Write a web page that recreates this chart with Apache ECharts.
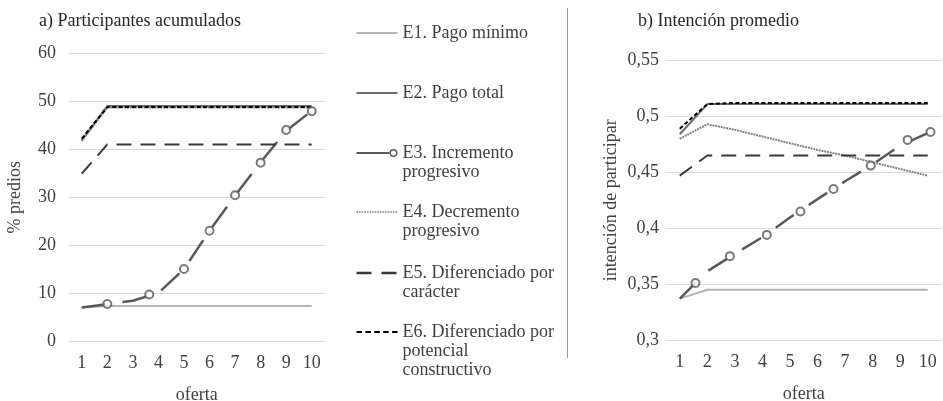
<!DOCTYPE html>
<html>
<head>
<meta charset="utf-8">
<script src="https://cdn.jsdelivr.net/npm/echarts@6/dist/echarts.min.js"></script>
<style>
html,body{margin:0;padding:0;background:#fff;}
#chart{width:943px;height:401px;}
</style>
</head>
<body>
<div id="chart"></div>
<script>
// ---- data ----
const categories = ['1','2','3','4','5','6','7','8','9','10'];
const seriesNames = ['E1. Pago mínimo','E2. Pago total','E3. Incremento progresivo','E4. Decremento progresivo','E5. Diferenciado por carácter','E6. Diferenciado por potencial constructivo'];
const legendLabels = ['E1. Pago mínimo','E2. Pago total','E3. Incremento\nprogresivo','E4. Decremento\nprogresivo','E5. Diferenciado por\ncarácter','E6. Diferenciado por\npotencial\nconstructivo'];

// a) Participantes acumulados (% predios)
const aE1 = [7.0, 7.3, 7.3, 7.3, 7.3, 7.3, 7.3, 7.3, 7.3, 7.3];
const aE2 = [41.9, 49.0, 49.0, 49.0, 49.0, 49.0, 49.0, 49.0, 49.0, 49.0];
const aE3 = [7.0, 7.7, 8.4, 10.0, 15.0, 23.0, 30.3, 37.3, 43.8, 48.0];
const aE4 = [41.7, 48.7, 48.7, 48.7, 48.7, 48.7, 48.7, 48.7, 48.7, 48.7];
const aE5 = [34.9, 41.0, 41.0, 41.0, 41.0, 41.0, 41.0, 41.0, 41.0, 41.0];
const aE6 = [42.2, 48.8, 48.8, 48.8, 48.8, 48.8, 48.8, 48.8, 48.8, 48.8];
const aE3markers = [[2, 7.7], [3.64, 9.7], [5, 15.0], [6, 23.0], [7, 30.4], [8, 37.2], [9, 44.0], [10, 47.9]];

// b) Intención promedio
const bE1 = [0.337, 0.345, 0.345, 0.345, 0.345, 0.345, 0.345, 0.345, 0.345, 0.345];
const bE2 = [0.484, 0.511, 0.511, 0.511, 0.511, 0.511, 0.511, 0.511, 0.511, 0.511];
const bE3 = [0.337, 0.3615, 0.377, 0.392, 0.4095, 0.426, 0.442, 0.457, 0.474, 0.485];
const bE4 = [0.480, 0.493, 0.488, 0.482, 0.476, 0.470, 0.465, 0.459, 0.453, 0.447];
const bE5 = [0.447, 0.465, 0.465, 0.465, 0.465, 0.465, 0.465, 0.465, 0.465, 0.465];
const bE6 = [0.489, 0.511, 0.512, 0.512, 0.512, 0.512, 0.512, 0.512, 0.512, 0.512];
const bE3markers = [[1.57, 0.351], [2.82, 0.375], [4.16, 0.394], [5.38, 0.415], [6.58, 0.435], [7.93, 0.456], [9.27, 0.479], [10.1, 0.486]];

// ---- styling ----
const FONT = '"Liberation Serif", "Times New Roman", serif';
const TXT = '#404040';
const styles = [
  {color: '#b4b4b4', width: 2, type: 'solid'},
  {color: '#6e6e6e', width: 2, type: 'solid'},
  {color: '#595959', width: 2.5, type: [25, 16]},
  {color: '#828282', width: 2, type: [2, 0.8]},
  {color: '#3a3a3a', width: 2, type: [15, 9]},
  {color: '#000000', width: 2, type: [4, 2.5]}
];

function mkSeries(dataArr, xi, yi, dashOverride) {
  return dataArr.map((d, i) => {
    const st = styles[i];
    return {
      name: seriesNames[i], type: 'line', data: d,
      xAxisIndex: xi, yAxisIndex: yi,
      symbol: 'none', showSymbol: false,
      lineStyle: {color: st.color, width: st.width, type: (i === 2 && dashOverride) ? dashOverride : st.type},
      itemStyle: {color: st.color},
      emphasis: {disabled: true}, animation: false, z: 2 + i
    };
  });
}
function markerSeries(d, xi, yi) {
  return {
    type: 'scatter', name: 'E3m', data: d, xAxisIndex: xi, yAxisIndex: yi,
    symbol: 'circle', symbolSize: 8,
    itemStyle: {color: '#ffffff', borderColor: '#595959', borderWidth: 2},
    emphasis: {disabled: true}, animation: false, z: 10
  };
}

const catAxis = (grid) => ({
  type: 'category', gridIndex: grid, data: categories, boundaryGap: true,
  axisLine: {show: false}, axisTick: {show: false},
  axisLabel: {color: TXT, fontFamily: FONT, fontSize: 18, margin: 13},
  name: 'oferta', nameLocation: 'middle', nameGap: 45,
  nameTextStyle: {color: TXT, fontFamily: FONT, fontSize: 18}
});
const hiddenAxis = (grid) => ({type: 'value', gridIndex: grid, min: 0.5, max: 10.5, show: false});

// ---- legend icons (line samples drawn at the first text line) ----
const LH = 19, IW = 41;
function rect(x, w, th) { const y0 = LH / 2 - th / 2, y1 = LH / 2 + th / 2; return `M${x},${y0}L${x + w},${y0}L${x + w},${y1}L${x},${y1}Z`; }
function dashIcon(dash, gap, th, h) {
  let p = `M0,0M${IW},${h}`;
  for (let x = 0; x < IW - 0.01; x += dash + gap) p += rect(x, Math.min(dash, IW - x), th);
  return 'path://' + p;
}
function e3Icon(h) {
  const cy = LH / 2, r = 4, cx = IW - r;
  return 'path://' + `M0,0M${IW},${h}` + rect(0, cx - r + 0.4, 1.8) +
    `M${cx + r},${cy}A${r},${r} 0 1,0 ${cx - r},${cy}A${r},${r} 0 1,0 ${cx + r},${cy}Z` +
    `M${cx + 2.5},${cy}A2.5,2.5 0 1,1 ${cx - 2.5},${cy}A2.5,2.5 0 1,1 ${cx + 2.5},${cy}Z`;
}
const legendCenters = [33, 93, 153, 212, 273, 332];
const legendLines = [1, 1, 2, 2, 2, 3];
const iconDefs = [
  h => dashIcon(IW, 0, 2, h),
  h => dashIcon(IW, 0, 2, h),
  h => e3Icon(h),
  h => dashIcon(1.6, 1, 1.6, h),
  h => dashIcon(15, 10, 2.6, h),
  h => dashIcon(5.5, 3.4, 2.2, h)
];
const legends = seriesNames.map((n, i) => {
  const h = legendLines[i] * LH;
  return {
    left: 356.5, top: legendCenters[i] - LH / 2, orient: 'vertical', padding: 0,
    itemWidth: IW, itemHeight: h, itemGap: 4, symbolKeepAspect: true,
    selectedMode: false,
    data: [{name: n, icon: iconDefs[i](h), itemStyle: {color: styles[i].color, borderWidth: 0, opacity: 1}}],
    formatter: () => legendLabels[i],
    textStyle: {color: TXT, fontFamily: FONT, fontSize: 18, lineHeight: LH}
  };
});

const option = {
  backgroundColor: '#ffffff',
  animation: false,
  title: [
    {text: 'a) Participantes acumulados', left: 34, top: 7, textStyle: {color: '#262626', fontFamily: FONT, fontSize: 18, fontWeight: 'normal'}},
    {text: 'b) Intención promedio', left: 633, top: 7, textStyle: {color: '#262626', fontFamily: FONT, fontSize: 18, fontWeight: 'normal'}}
  ],
  legend: legends,
  grid: [
    {left: 69, right: 618.5, top: 53.3, bottom: 60, containLabel: false, outerBoundsMode: 'none'},
    {left: 666, right: 1.5, top: 60.5, bottom: 61, containLabel: false, outerBoundsMode: 'none'}
  ],
  xAxis: [catAxis(0), catAxis(1), hiddenAxis(0), hiddenAxis(1)],
  yAxis: [
    {type: 'value', gridIndex: 0, min: 0, max: 60, interval: 10,
     axisLine: {show: false}, axisTick: {show: false},
     splitLine: {lineStyle: {color: '#d9d9d9', width: 1}},
     axisLabel: {color: TXT, fontFamily: FONT, fontSize: 18, margin: 13},
     name: '% predios', nameLocation: 'middle', nameGap: 45,
     nameTextStyle: {color: TXT, fontFamily: FONT, fontSize: 18}},
    {type: 'value', gridIndex: 1, min: 0.3, max: 0.55, interval: 0.05,
     axisLine: {show: false}, axisTick: {show: false},
     splitLine: {lineStyle: {color: '#d9d9d9', width: 1}},
     axisLabel: {color: TXT, fontFamily: FONT, fontSize: 18, margin: 7,
       formatter: v => String(Math.round(v * 100) / 100).replace('.', ',')},
     name: 'intención de participar', nameLocation: 'middle', nameGap: 46,
     nameTextStyle: {color: TXT, fontFamily: FONT, fontSize: 18}}
  ],
  graphic: [
    {type: 'line', shape: {x1: 567.5, y1: 8, x2: 567.5, y2: 358}, style: {stroke: '#9a9a9a', lineWidth: 1}, silent: true}
  ],
  series: [].concat(
    mkSeries([aE1, aE2, aE3, aE4, aE5, aE6], 0, 0),
    [markerSeries(aE3markers, 2, 0)],
    mkSeries([bE1, bE2, bE3, bE4, bE5, bE6], 1, 1, [22, 18]),
    [markerSeries(bE3markers, 3, 1)]
  )
};
const chart = echarts.init(document.getElementById('chart'), null, {renderer: 'canvas'});
chart.setOption(option);
</script>
</body>
</html>
